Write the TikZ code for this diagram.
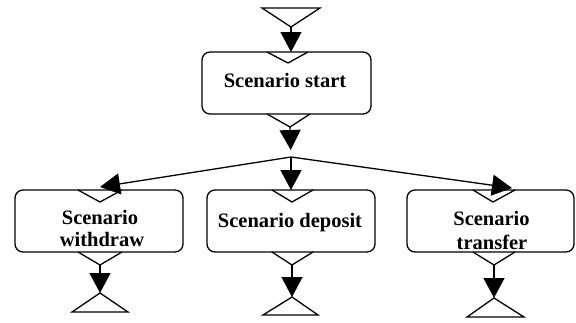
\documentclass[tikz,border=0pt]{standalone}
\usepackage{fontspec}
\setmainfont{Liberation Serif}
\usetikzlibrary{arrows.meta}
\begin{document}
\begin{tikzpicture}[x=1pt,y=-1pt,
  line width=1.3pt,
  box/.style={draw,rounded corners=8pt,minimum width=#1,minimum height=62pt,inner sep=0pt},
  box/.default=168pt,
  lbl/.style={anchor=base,inner sep=0pt,font=\bfseries\fontsize{20.5}{22}\selectfont},
  arr/.style={-{Triangle[length=20pt,width=21pt]}},
  tri/.style={line join=miter}]
\useasboundingbox (0,0) rectangle (576,322);

% scenario boxes
\node[box=169pt] (start)    at (286.5,83)  {};
\node[box=168pt] (withdraw) at (99,221)    {};
\node[box=168pt] (deposit)  at (291,221)   {};
\node[box=167pt] (transfer) at (490.5,221) {};

% box labels
\node[lbl] (tstart) at (285,87) {Scenario start};
\node[lbl] (tw1) at (100,224) {Scenario};
\node[lbl] (tw2) at (102,246) {withdraw};
\node[lbl] (td1) at (290,227) {Scenario deposit};
\node[lbl] (tt1) at (491.5,225) {Scenario};
\node[lbl] (tt2) at (492,249) {transfer};

% entry notches on top of each box
\draw[tri] (267,52) -- (288,63) -- (308,52);
\draw[tri] (78,190) -- (100,202) -- (122,190);
\draw[tri] (272,190) -- (292,202) -- (313,190);
\draw[tri] (473,190) -- (493,202) -- (515,190);

% exit marks under each box
\draw[tri] (267,114) -- (290,127) -- (310,114);
\draw[tri] (78,252) -- (100,265) -- (122,252);
\draw[tri] (272,252) -- (292,265) -- (313,252);
\draw[tri] (473,252) -- (494,265) -- (515,252);
\coordinate (sOut) at (290,127);
\coordinate (wOut) at (100,265);
\coordinate (dOut) at (292,265);
\coordinate (tOut) at (494,265);

% initial state
\draw[tri] (262,8) -- (320,8) -- (291,27) -- cycle;
\coordinate (init) at (291,27);
\coordinate (startIn) at (291,52);

% final states
\draw[tri] (72,312) -- (128,312) -- (100,293) -- cycle;
\draw[tri] (263,315) -- (318,315) -- (292,297) -- cycle;
\draw[tri] (467,317) -- (524,317) -- (494,298) -- cycle;
\coordinate (wEnd) at (100,293);
\coordinate (dEnd) at (292,297);
\coordinate (tEnd) at (494,298);

% branch point and arrow ends
\coordinate (fork) at (291,157);
\coordinate (wIn) at (100,187);
\coordinate (dIn) at (291,190);
\coordinate (tIn) at (512,188);

% connectors
\draw[arr] (init) -- (startIn);
\draw[arr,shorten >=7pt] (sOut) -- (fork);
\draw[arr] (fork) -- (wIn);
\draw[arr] (fork) -- (dIn);
\draw[arr] (fork) -- (tIn);
\draw[arr] (wOut) -- (wEnd);
\draw[arr] (dOut) -- (dEnd);
\draw[arr] (tOut) -- (tEnd);
\end{tikzpicture}
\end{document}
